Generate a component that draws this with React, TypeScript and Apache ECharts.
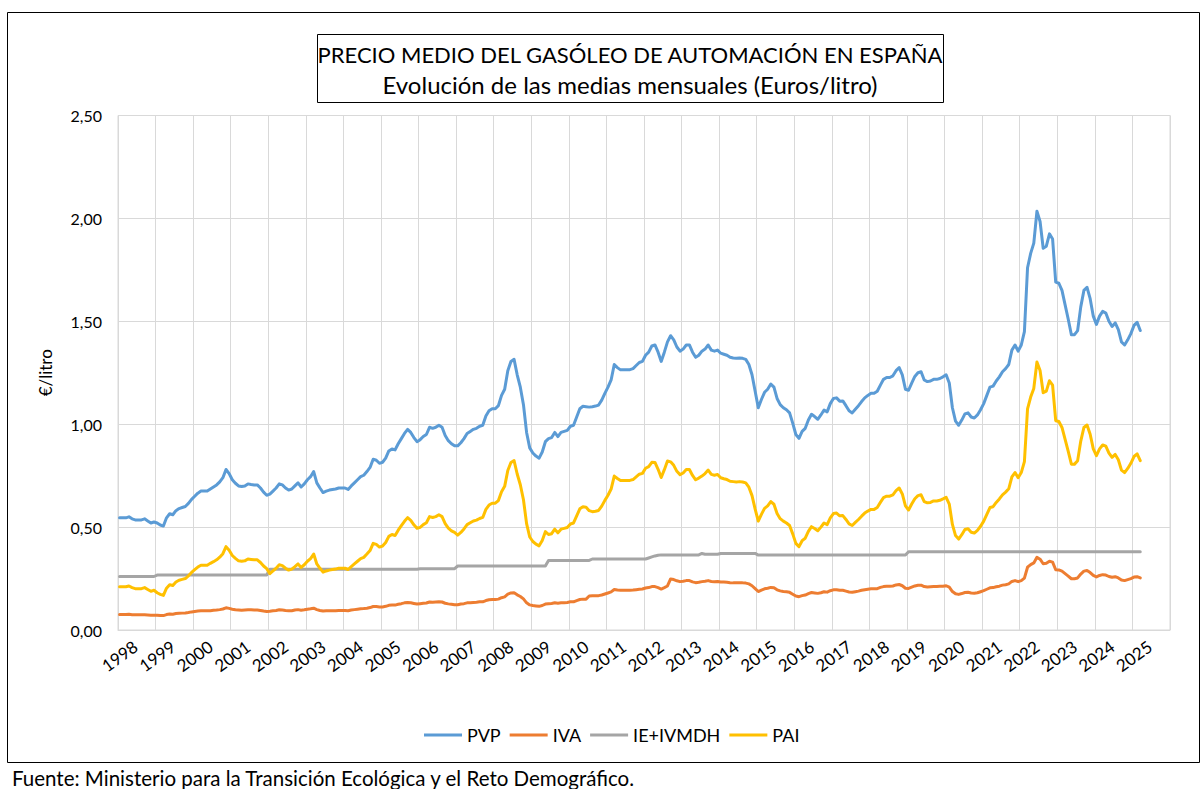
import React, { useEffect, useRef } from 'react';
import * as echarts from 'echarts';

const years = ['1998','1999','2000','2001','2002','2003','2004','2005','2006','2007','2008','2009','2010','2011','2012','2013','2014','2015','2016','2017','2018','2019','2020','2021','2022','2023','2024','2025'];
const months = ['01','02','03','04','05','06','07','08','09','10','11','12'];
const yTicks = [0, 0.5, 1, 1.5, 2, 2.5];

// PVP (precio de venta al público), medias mensuales ene-1998 .. mar-2025
const pvp = [
  0.545,0.545,0.545,0.55,0.54,0.535,0.535,0.535,0.54,0.53,0.52,0.525,
  0.52,0.51,0.505,0.545,0.565,0.56,0.58,0.59,0.595,0.60,0.615,0.635,
  0.65,0.665,0.675,0.675,0.675,0.685,0.695,0.705,0.72,0.74,0.78,0.76,
  0.73,0.713,0.70,0.697,0.70,0.71,0.707,0.705,0.705,0.69,0.67,0.655,
  0.66,0.675,0.69,0.71,0.705,0.69,0.68,0.685,0.70,0.715,0.695,0.71,
  0.73,0.745,0.77,0.715,0.69,0.668,0.675,0.68,0.683,0.685,0.69,0.69,
  0.69,0.683,0.70,0.715,0.73,0.745,0.752,0.77,0.79,0.83,0.825,0.81,
  0.815,0.835,0.87,0.88,0.875,0.905,0.93,0.955,0.975,0.96,0.935,0.915,
  0.925,0.94,0.95,0.985,0.98,0.985,0.995,0.985,0.945,0.92,0.905,0.895,
  0.895,0.91,0.93,0.955,0.965,0.975,0.98,0.99,0.995,1.04,1.065,1.075,
  1.075,1.09,1.14,1.17,1.26,1.305,1.315,1.24,1.18,1.095,0.96,0.885,
  0.86,0.845,0.835,0.865,0.915,0.93,0.935,0.96,0.94,0.96,0.965,0.97,
  0.99,0.995,1.035,1.075,1.087,1.085,1.083,1.085,1.088,1.093,1.117,1.15,
  1.18,1.215,1.29,1.275,1.264,1.264,1.264,1.265,1.27,1.285,1.30,1.305,
  1.335,1.35,1.38,1.385,1.35,1.305,1.35,1.40,1.43,1.41,1.375,1.355,
  1.365,1.385,1.385,1.35,1.325,1.335,1.355,1.365,1.385,1.36,1.355,1.36,
  1.345,1.34,1.335,1.325,1.322,1.32,1.322,1.32,1.315,1.29,1.24,1.16,
  1.08,1.12,1.155,1.17,1.195,1.18,1.125,1.095,1.08,1.07,1.055,1.005,
  0.95,0.931,0.965,0.98,1.02,1.048,1.037,1.024,1.045,1.069,1.06,1.10,
  1.125,1.128,1.112,1.113,1.09,1.065,1.055,1.073,1.09,1.11,1.128,1.14,
  1.15,1.15,1.16,1.19,1.218,1.227,1.227,1.235,1.26,1.275,1.24,1.17,
  1.165,1.20,1.232,1.25,1.255,1.215,1.207,1.21,1.218,1.218,1.222,1.23,
  1.24,1.20,1.08,1.015,0.995,1.02,1.05,1.055,1.035,1.03,1.045,1.07,
  1.10,1.14,1.18,1.185,1.21,1.23,1.255,1.27,1.29,1.36,1.385,1.355,
  1.385,1.45,1.76,1.83,1.88,2.035,1.985,1.855,1.865,1.925,1.90,1.69,
  1.685,1.65,1.58,1.51,1.435,1.435,1.455,1.57,1.65,1.665,1.61,1.525,
  1.485,1.525,1.548,1.54,1.50,1.475,1.492,1.46,1.40,1.385,1.41,1.44,
  1.48,1.495,1.455,
];

// IVA
const iva = [
  0.075,0.075,0.075,0.076,0.074,0.074,0.074,0.074,0.074,0.073,0.072,0.072,
  0.072,0.070,0.070,0.075,0.078,0.077,0.080,0.081,0.082,0.083,0.085,0.088,
  0.090,0.092,0.093,0.093,0.093,0.094,0.096,0.097,0.099,0.102,0.108,0.105,
  0.101,0.098,0.097,0.096,0.097,0.098,0.098,0.097,0.097,0.095,0.092,0.090,
  0.091,0.093,0.095,0.098,0.097,0.095,0.094,0.094,0.097,0.099,0.096,0.098,
  0.101,0.103,0.106,0.099,0.095,0.092,0.093,0.094,0.094,0.094,0.095,0.095,
  0.095,0.094,0.097,0.099,0.101,0.103,0.104,0.106,0.109,0.114,0.114,0.112,
  0.112,0.115,0.120,0.121,0.121,0.125,0.128,0.132,0.134,0.132,0.129,0.126,
  0.128,0.130,0.131,0.136,0.135,0.136,0.137,0.136,0.130,0.127,0.125,0.123,
  0.123,0.126,0.128,0.132,0.133,0.134,0.135,0.137,0.137,0.143,0.147,0.148,
  0.148,0.150,0.157,0.161,0.174,0.180,0.181,0.171,0.163,0.151,0.132,0.122,
  0.119,0.117,0.115,0.119,0.126,0.128,0.129,0.132,0.130,0.132,0.133,0.134,
  0.137,0.137,0.143,0.148,0.150,0.150,0.165,0.166,0.166,0.167,0.170,0.175,
  0.180,0.185,0.197,0.194,0.193,0.193,0.193,0.193,0.194,0.196,0.198,0.199,
  0.204,0.206,0.211,0.211,0.206,0.199,0.206,0.214,0.248,0.245,0.239,0.235,
  0.237,0.240,0.240,0.234,0.230,0.232,0.235,0.237,0.240,0.236,0.235,0.236,
  0.233,0.233,0.232,0.230,0.229,0.229,0.229,0.229,0.228,0.224,0.215,0.201,
  0.187,0.194,0.200,0.203,0.207,0.205,0.195,0.190,0.187,0.186,0.183,0.174,
  0.165,0.162,0.167,0.170,0.177,0.182,0.180,0.178,0.181,0.186,0.184,0.191,
  0.195,0.196,0.193,0.193,0.189,0.185,0.183,0.186,0.189,0.193,0.196,0.198,
  0.200,0.200,0.201,0.207,0.211,0.213,0.213,0.214,0.219,0.221,0.215,0.203,
  0.202,0.208,0.214,0.217,0.218,0.211,0.209,0.210,0.211,0.211,0.212,0.213,
  0.215,0.208,0.187,0.176,0.173,0.177,0.182,0.183,0.180,0.179,0.181,0.186,
  0.191,0.198,0.205,0.206,0.210,0.213,0.218,0.220,0.224,0.236,0.240,0.235,
  0.240,0.252,0.305,0.318,0.326,0.353,0.344,0.322,0.324,0.334,0.330,0.293,
  0.292,0.286,0.274,0.262,0.249,0.249,0.253,0.272,0.286,0.289,0.279,0.265,
  0.258,0.265,0.269,0.267,0.260,0.256,0.259,0.253,0.243,0.240,0.245,0.250,
  0.257,0.259,0.253,
];

// IE + IVMDH
const ie = [
  0.26,0.26,0.26,0.26,0.26,0.26,0.26,0.26,0.26,0.26,0.26,0.26,
  0.267,0.267,0.267,0.267,0.267,0.267,0.267,0.267,0.267,0.267,0.267,0.267,
  0.267,0.267,0.267,0.267,0.267,0.267,0.267,0.267,0.267,0.267,0.267,0.267,
  0.267,0.267,0.267,0.267,0.267,0.267,0.267,0.267,0.267,0.267,0.267,0.267,
  0.295,0.295,0.295,0.295,0.295,0.295,0.295,0.295,0.295,0.295,0.295,0.295,
  0.295,0.295,0.295,0.295,0.295,0.295,0.295,0.295,0.295,0.295,0.295,0.295,
  0.295,0.295,0.295,0.295,0.295,0.295,0.295,0.295,0.295,0.295,0.295,0.295,
  0.295,0.295,0.295,0.295,0.295,0.295,0.295,0.295,0.295,0.295,0.295,0.295,
  0.298,0.298,0.298,0.298,0.298,0.298,0.298,0.298,0.298,0.298,0.298,0.298,
  0.311,0.311,0.311,0.311,0.311,0.311,0.311,0.311,0.311,0.311,0.311,0.311,
  0.311,0.311,0.311,0.311,0.311,0.311,0.311,0.311,0.311,0.311,0.311,0.311,
  0.311,0.311,0.311,0.311,0.311,0.338,0.338,0.338,0.338,0.338,0.338,0.338,
  0.338,0.338,0.338,0.338,0.338,0.338,0.338,0.345,0.345,0.345,0.345,0.345,
  0.345,0.345,0.345,0.345,0.345,0.345,0.345,0.345,0.345,0.345,0.345,0.345,
  0.345,0.350,0.355,0.360,0.363,0.365,0.365,0.365,0.365,0.365,0.365,0.365,
  0.365,0.365,0.365,0.365,0.365,0.365,0.372,0.368,0.368,0.368,0.368,0.368,
  0.372,0.372,0.372,0.372,0.372,0.372,0.372,0.372,0.372,0.372,0.372,0.372,
  0.364,0.364,0.364,0.364,0.364,0.364,0.364,0.364,0.364,0.364,0.364,0.364,
  0.364,0.364,0.364,0.364,0.364,0.364,0.364,0.364,0.364,0.364,0.364,0.364,
  0.364,0.364,0.364,0.364,0.364,0.364,0.364,0.364,0.364,0.364,0.364,0.364,
  0.364,0.364,0.364,0.364,0.364,0.364,0.364,0.364,0.364,0.364,0.364,0.364,
  0.38,0.38,0.38,0.38,0.38,0.38,0.38,0.38,0.38,0.38,0.38,0.38,
  0.38,0.38,0.38,0.38,0.38,0.38,0.38,0.38,0.38,0.38,0.38,0.38,
  0.38,0.38,0.38,0.38,0.38,0.38,0.38,0.38,0.38,0.38,0.38,0.38,
  0.38,0.38,0.38,0.38,0.38,0.38,0.38,0.38,0.38,0.38,0.38,0.38,
  0.38,0.38,0.38,0.38,0.38,0.38,0.38,0.38,0.38,0.38,0.38,0.38,
  0.38,0.38,0.38,0.38,0.38,0.38,0.38,0.38,0.38,0.38,0.38,0.38,
  0.38,0.38,0.38,
];

// PAI (precio antes de impuestos)
const pai = [
  0.210,0.210,0.210,0.214,0.206,0.201,0.201,0.201,0.206,0.197,0.188,0.193,
  0.181,0.173,0.168,0.203,0.220,0.216,0.233,0.242,0.246,0.250,0.263,0.280,
  0.293,0.306,0.315,0.315,0.315,0.324,0.332,0.341,0.354,0.371,0.405,0.388,
  0.362,0.348,0.336,0.334,0.336,0.345,0.343,0.341,0.341,0.328,0.311,0.298,
  0.274,0.287,0.300,0.317,0.313,0.300,0.291,0.296,0.308,0.321,0.304,0.317,
  0.334,0.347,0.369,0.321,0.300,0.281,0.287,0.291,0.294,0.296,0.300,0.300,
  0.300,0.294,0.308,0.321,0.334,0.347,0.353,0.369,0.386,0.421,0.416,0.403,
  0.408,0.425,0.455,0.464,0.459,0.485,0.507,0.528,0.546,0.533,0.511,0.494,
  0.499,0.512,0.521,0.551,0.547,0.551,0.560,0.551,0.517,0.495,0.482,0.474,
  0.461,0.474,0.491,0.512,0.521,0.530,0.534,0.542,0.547,0.586,0.607,0.616,
  0.616,0.629,0.672,0.698,0.775,0.814,0.823,0.758,0.706,0.633,0.517,0.452,
  0.430,0.417,0.409,0.435,0.478,0.464,0.468,0.490,0.472,0.490,0.494,0.498,
  0.515,0.520,0.554,0.589,0.599,0.597,0.580,0.575,0.577,0.581,0.602,0.630,
  0.655,0.685,0.748,0.736,0.726,0.726,0.726,0.727,0.731,0.744,0.757,0.761,
  0.786,0.794,0.815,0.814,0.781,0.741,0.779,0.821,0.817,0.800,0.771,0.755,
  0.763,0.780,0.780,0.751,0.730,0.738,0.748,0.760,0.777,0.756,0.752,0.756,
  0.740,0.735,0.731,0.723,0.721,0.719,0.721,0.719,0.715,0.694,0.653,0.587,
  0.529,0.562,0.591,0.603,0.624,0.611,0.566,0.541,0.529,0.520,0.508,0.467,
  0.421,0.405,0.434,0.446,0.479,0.502,0.493,0.482,0.500,0.520,0.512,0.545,
  0.566,0.568,0.555,0.556,0.537,0.516,0.508,0.523,0.537,0.553,0.568,0.578,
  0.586,0.586,0.595,0.620,0.643,0.650,0.650,0.657,0.677,0.690,0.661,0.603,
  0.583,0.612,0.638,0.653,0.657,0.624,0.618,0.620,0.627,0.627,0.630,0.637,
  0.645,0.612,0.513,0.459,0.442,0.463,0.488,0.492,0.475,0.471,0.484,0.504,
  0.529,0.562,0.595,0.599,0.620,0.637,0.657,0.670,0.686,0.744,0.765,0.740,
  0.765,0.818,1.075,1.132,1.174,1.302,1.261,1.153,1.161,1.211,1.190,1.017,
  1.013,0.984,0.926,0.868,0.806,0.806,0.823,0.918,0.984,0.996,0.951,0.880,
  0.847,0.880,0.899,0.893,0.860,0.839,0.853,0.827,0.777,0.765,0.785,0.810,
  0.843,0.856,0.823,
];

const seriesNames = ['PVP', 'IVA', 'IE+IVMDH', 'PAI'];
const seriesColors = ['#5B9BD5', '#ED7D31', '#A5A5A5', '#FFC000'];

const FONT = 'Lato, "Liberation Sans", sans-serif';

export default function App() {
  const ref = useRef<HTMLDivElement>(null);

  useEffect(() => {
    if (!ref.current) return;
    const chart = echarts.init(ref.current, null, { renderer: 'svg' });
    const categories = years.flatMap((y) => months.map((m) => `${y}-${m}`));
    const seriesData = [pvp, iva, ie, pai];

    chart.setOption({
      animation: false,
      backgroundColor: '#ffffff',
      textStyle: { fontFamily: FONT },
      grid: {
        left: 118,
        right: 31,
        top: 115.5,
        bottom: 159,
        show: true,
        borderColor: '#d9d9d9',
        borderWidth: 1,
        containLabel: false,
      },
      legend: {
        data: seriesNames,
        left: 419,
        top: 721,
        icon: 'rect',
        itemWidth: 38,
        itemHeight: 3,
        itemGap: 9,
        textStyle: { fontSize: 18, color: '#000', fontFamily: FONT },
      },
      xAxis: {
        type: 'category',
        data: categories,
        boundaryGap: true,
        axisLine: { show: true, lineStyle: { color: '#d9d9d9', width: 1 } },
        axisTick: { show: false },
        splitLine: {
          show: true,
          interval: (i: number) => i % 12 === 0,
          lineStyle: { color: '#d9d9d9', width: 1 },
        },
        axisLabel: {
          interval: (i: number) => i % 12 === 0,
          formatter: (v: string) => v.slice(0, 4),
          rotate: 36,
          align: 'center',
          verticalAlign: 'middle',
          margin: 26,
          fontSize: 17,
          color: '#000',
          fontFamily: FONT,
        },
      },
      yAxis: {
        type: 'value',
        min: yTicks[0],
        max: yTicks[yTicks.length - 1],
        interval: 0.5,
        axisLine: { show: false },
        axisTick: { show: false },
        splitLine: { show: true, lineStyle: { color: '#d9d9d9', width: 1 } },
        axisLabel: {
          formatter: (v: number) => v.toFixed(2).replace('.', ','),
          fontSize: 16,
          color: '#000',
          margin: 16,
          fontFamily: FONT,
        },
        name: '€/litro',
        nameLocation: 'middle',
        nameGap: 64,
        nameRotate: 90,
        nameTextStyle: { fontSize: 17, color: '#000', fontFamily: FONT },
      },
      series: seriesNames.map((name, k) => ({
        name,
        type: 'line',
        data: seriesData[k],
        showSymbol: false,
        symbol: 'none',
        lineStyle: { color: seriesColors[k], width: 3, cap: 'round', join: 'round' },
        itemStyle: { color: seriesColors[k] },
        z: 2 + k,
      })),
      graphic: [
        {
          type: 'rect',
          shape: { x: 7.5, y: 12.5, width: 1192, height: 750 },
          style: { fill: 'none', stroke: '#000', lineWidth: 1 },
          silent: true,
          z: -10,
        },
        {
          type: 'rect',
          shape: { x: 317.5, y: 34.5, width: 626, height: 68 },
          style: { fill: '#fff', stroke: '#000', lineWidth: 1 },
          silent: true,
        },
        {
          type: 'text',
          x: 630,
          y: 54,
          style: {
            text: 'PRECIO MEDIO DEL GASÓLEO DE AUTOMACIÓN EN ESPAÑA',
            fill: '#000',
            font: `22px ${FONT}`,
            textAlign: 'center',
            textVerticalAlign: 'middle',
          },
          silent: true,
        },
        {
          type: 'text',
          x: 630,
          y: 84,
          style: {
            text: 'Evolución de las medias mensuales (Euros/litro)',
            fill: '#000',
            font: `24px ${FONT}`,
            textAlign: 'center',
            textVerticalAlign: 'middle',
          },
          silent: true,
        },
        {
          type: 'text',
          x: 12,
          y: 778,
          style: {
            text: 'Fuente: Ministerio para la Transición Ecológica y el Reto Demográfico.',
            fill: '#000',
            font: `20.5px ${FONT}`,
            textAlign: 'left',
            textVerticalAlign: 'middle',
          },
          silent: true,
        },
      ],
    });

    return () => chart.dispose();
  }, []);

  return (
    <div
      ref={ref}
      style={{ position: 'absolute', left: 0, top: 0, width: 1201, height: 789, background: '#fff' }}
    />
  );
}
